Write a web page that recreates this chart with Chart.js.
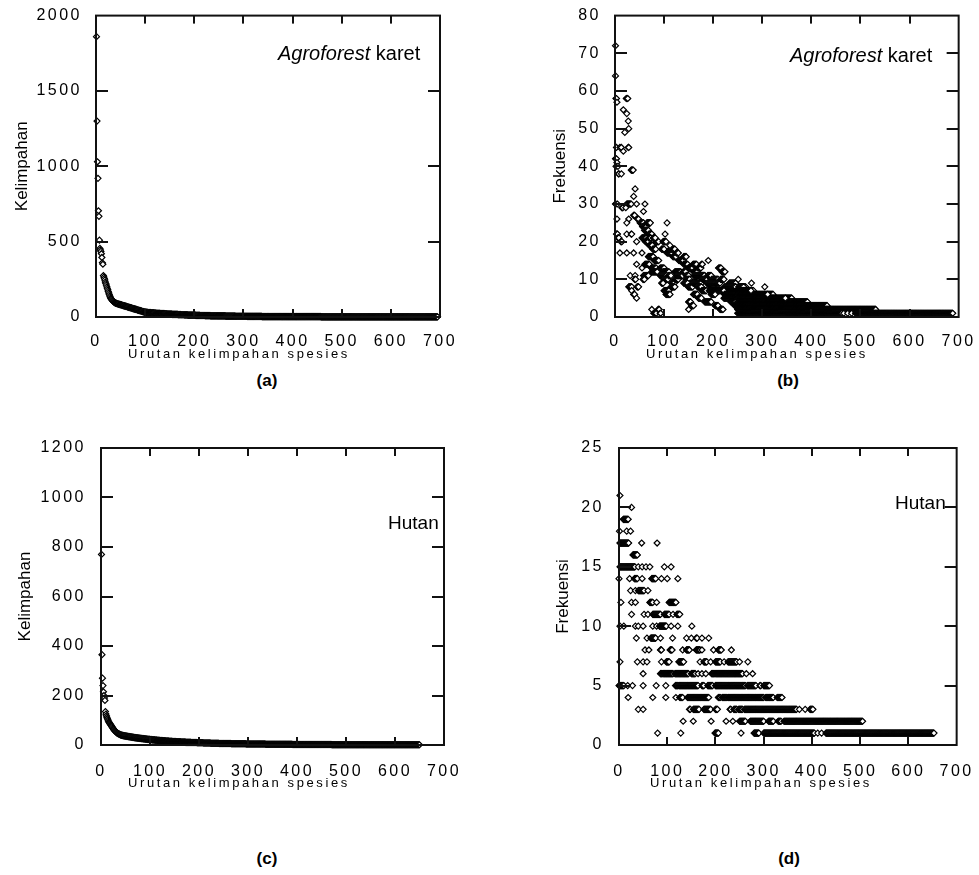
<!DOCTYPE html>
<html>
<head>
<meta charset="utf-8">
<script src="https://cdn.jsdelivr.net/npm/chart.js@4.4.1/dist/chart.umd.min.js"></script>
<style>
  html, body { margin: 0; padding: 0; background: #fff; }
  body { width: 979px; height: 875px; position: relative; overflow: hidden;
         font-family: "Liberation Sans", Arial, sans-serif; color: #000; }
  canvas { position: absolute; }
  .xt { position: absolute; font-size: 13px; line-height: 13px; letter-spacing: 2.6px; white-space: nowrap; }
  .note { position: absolute; font-size: 20px; line-height: 20px; white-space: nowrap; }
  .panel { position: absolute; width: 60px; text-align: center; font-size: 17px; line-height: 17px; font-weight: bold; }
</style>
</head>
<body>
<canvas id="chA" width="470" height="370" style="left:0;top:0"></canvas>
<canvas id="chB" width="439" height="370" style="left:540px;top:0"></canvas>
<canvas id="chC" width="470" height="370" style="left:0;top:420px"></canvas>
<canvas id="chD" width="439" height="370" style="left:540px;top:420px"></canvas>

<div class="note" style="left:278px;top:43px"><i>Agroforest</i> karet</div>
<div class="note" style="left:790px;top:45px"><i>Agroforest</i> karet</div>
<div class="note" style="left:388px;top:513px;font-size:19px">Hutan</div>
<div class="note" style="left:895px;top:493px;font-size:19px">Hutan</div>

<div class="xt" style="left:128px;top:347px">Urutan kelimpahan spesies</div>
<div class="xt" style="left:646px;top:347px">Urutan kelimpahan spesies</div>
<div class="xt" style="left:128px;top:776px">Urutan kelimpahan spesies</div>
<div class="xt" style="left:650px;top:776px">Urutan kelimpahan spesies</div>

<div class="panel" style="left:237px;top:372px">(a)</div>
<div class="panel" style="left:758px;top:372px">(b)</div>
<div class="panel" style="left:237px;top:850px">(c)</div>
<div class="panel" style="left:759px;top:850px">(d)</div>

<script>
// x axis: species abundance rank
const X_MAX = 700, X_STEP = 100;

// (a) Agroforest karet - abundance of the top ranks, then [abundance, number of species]
const rankTopA = [1860, 1300, 1030, 920, 705, 668, 510, 455, 445, 435, 420, 395, 360, 350, 275,
  265, 255, 245, 232, 222, 212, 200, 190, 180, 170, 160, 150, 140, 132, 125,
  120, 115, 111, 107, 104, 101, 98, 96, 94, 92];
const rankTailA = [[90,2],[88,2],[86,2],[84,2],[82,2],[80,2],[78,2],[76,2],[74,2],[72,2],[70,2],
  [68,2],[66,2],[64,2],[62,2],[60,2],[58,2],[56,2],[54,2],[52,2],[50,2],[48,2],[46,2],[44,2],
  [42,2],[40,2],[38,2],[36,2],[34,2],[33,2],[32,2],[31,3],[30,3],[29,3],[28,3],[27,4],[26,4],
  [25,4],[24,4],[23,4],[22,5],[21,5],[20,5],[19,5],[18,6],[17,6],[16,6],[15,7],[14,7],[13,8],
  [12,8],[11,9],[10,10],[9,11],[8,14],[7,17],[6,20],[5,24],[4,30],[3,40],[2,80],[1,238]];

// (b) Agroforest karet - [frequency, first rank, last rank]
const freqRunsB = [
  [72,1,1],[64,1,1],[58,2,3],[57,4,4],[58,23,26],[55,17,17],[54,24,24],[52,27,27],[50,28,28],[49,20,20],
  [45,3,3],[45,10,10],[45,13,13],[44,17,17],[45,27,28],[42,1,3],[41,4,4],[40,2,2],[40,6,6],[38,7,8],[38,13,13],[39,33,37],
  [34,41,41],[32,38,38],[30,1,2],[30,5,5],[29,14,16],[30,24,33],[30,44,44],[30,61,61],[29,22,22],[28,58,58],
  [27,38,40],[26,4,4],[26,28,28],[26,46,48],[25,24,24],[25,51,58],[24,56,64],[25,65,72],[23,60,68],[22,69,75],[25,106,106],
  [22,3,5],[21,6,8],[20,12,14],[22,24,24],[22,33,34],[20,44,44],[21,55,64],[20,62,68],[21,69,73],[19,74,78],
  [19,70,76],[18,77,83],[20,84,89],[21,78,82],
  [22,102,102],[18,95,100],[20,98,104],[17,106,116],[18,112,122],[16,118,124],[17,125,129],[15,130,136],[19,112,112],
  [17,10,10],[17,24,24],[17,38,38],[17,55,55],[16,68,78],[15,80,89],[14,44,44],[14,61,70],[13,74,84],
  [15,132,139],[16,140,145],[14,140,148],[13,149,156],[13,92,100],[12,98,110],[13,150,158],[14,159,166],
  [12,160,168],[13,169,175],[11,176,183],[15,190,190],[14,176,178],
  [11,31,31],[13,55,55],[11,41,41],[12,75,86],[11,58,68],[11,92,105],
  [10,100,108],[11,109,114],[9,115,121],[10,122,129],[12,122,134],[11,126,138],[12,139,144],[11,145,150],
  [10,145,152],[9,153,160],[11,161,166],[10,167,172],[9,140,148],[8,149,158],[9,159,176],[11,166,182],
  [8,168,176],[7,177,186],[9,187,193],[8,194,200],[10,178,188],[11,189,196],[10,197,210],[9,188,204],[7,192,212],
  [13,211,216],[12,218,224],[9,206,214],[10,215,222],[8,223,232],[9,233,246],[7,210,222],[6,223,234],[7,235,250],
  [10,251,251],[8,232,246],[7,247,256],[8,257,266],[6,226,266],[5,222,262],[9,278,278],[8,305,305],
  [8,28,34],[10,40,42],[10,57,60],[7,34,34],[6,38,40],[5,44,44],[8,45,48],[9,95,98],[7,100,110],[6,104,112],
  [8,114,122],[2,75,75],[1,79,84],[2,88,90],[1,92,93],[4,150,154],[3,156,160],[6,160,168],[5,170,176],
  [2,150,150],[4,183,196],[6,196,204],[3,204,210],[2,214,220],[4,236,246],[3,244,254],
  [8,252,262],[7,258,282],[6,250,322],[5,250,360],[4,250,392],[3,250,432],[2,250,531],[1,250,462],
  [1,466,466],[1,474,474],[1,482,482],[1,490,688],[7,277,277],[6,311,311],[5,347,347]
];

// (c) Hutan - abundance of the top ranks, then [abundance, number of species]
const rankTopC = [770, 365, 270, 240, 215, 200, 190, 180, 135, 125, 118, 112, 107, 102, 97,
  93, 90, 87, 84, 81, 78, 75, 72, 69, 66, 63, 60, 58, 56, 54,
  52, 50, 48, 47, 46, 45, 44, 43, 42, 41];
const rankTailC = [[40,2],[39,2],[38,2],[37,3],[36,3],[35,3],[34,3],[33,3],[32,3],[31,3],[30,3],
  [29,4],[28,4],[27,4],[26,4],[25,4],[24,4],[23,5],[22,5],[21,5],[20,5],[19,5],[18,6],[17,6],
  [16,7],[15,7],[14,8],[13,9],[12,10],[11,11],[10,12],[9,13],[8,15],[7,17],[6,25],[5,30],
  [4,40],[3,55],[2,80],[1,180]];

// (d) Hutan - [frequency, first rank, last rank]
const freqRunsD = [
  [21,2,2],[20,26,26],[19,9,19],[18,1,1],[18,16,16],[18,24,24],
  [17,2,20],[17,47,47],[17,79,79],[16,29,38],
  [15,2,33],[15,40,40],[15,48,48],[15,56,56],[15,64,64],[15,94,94],[15,108,108],
  [14,0,0],[14,22,22],[14,32,38],[14,48,48],[14,68,76],[14,88,88],[14,100,100],[14,122,122],
  [13,24,24],[13,34,34],[13,40,52],[13,60,60],
  [12,4,4],[12,26,26],[12,34,34],[12,64,70],[12,78,78],[12,104,118],
  [11,26,26],[11,52,52],[11,60,60],[11,70,86],[11,94,104],[11,112,112],[11,120,126],
  [10,2,2],[10,10,10],[10,34,34],[10,40,40],[10,50,50],[10,70,70],[10,78,78],[10,84,98],[10,108,108],
  [10,122,122],[10,151,151],
  [9,36,36],[9,58,58],[9,66,76],[9,86,86],[9,111,111],[9,140,140],[9,150,150],[9,160,162],[9,172,172],[9,186,186],
  [8,54,54],[8,62,62],[8,86,88],[8,106,110],[8,132,132],[8,140,146],[8,160,168],[8,172,172],[8,196,196],
  [8,206,212],[8,233,233],
  [7,2,2],[7,38,38],[7,50,50],[7,58,58],[7,88,88],[7,98,104],[7,124,134],[7,168,168],[7,176,182],[7,190,190],
  [7,200,210],[7,218,218],[7,226,244],[7,250,250],[7,267,267],
  [6,50,50],[6,86,90],[6,92,112],[6,116,144],[6,150,158],[6,164,164],[6,172,172],[6,180,180],[6,192,198],
  [6,200,256],[6,264,264],[6,277,277],
  [5,0,10],[5,18,18],[5,28,28],[5,50,50],[5,77,77],[5,97,97],[5,117,122],[5,124,164],[5,172,176],[5,184,194],
  [5,200,262],[5,266,284],[5,292,294],[5,300,312],
  [4,19,19],[4,70,70],[4,97,97],[4,118,118],[4,126,132],[4,142,186],[4,206,210],[4,214,224],[4,226,300],
  [4,304,320],[4,328,338],
  [3,40,40],[3,50,50],[3,146,148],[3,154,166],[3,176,190],[3,200,204],[3,230,232],[3,238,244],[3,248,256],
  [3,260,368],[3,374,374],[3,386,386],[3,396,402],
  [2,133,133],[2,154,154],[2,191,191],[2,222,222],[2,236,236],[2,250,262],[2,272,300],[2,310,320],[2,330,336],
  [2,342,505],
  [1,80,80],[1,128,128],[1,199,206],[1,253,253],[1,280,290],[1,300,405],[1,412,412],[1,420,420],[1,429,653]
];

// expand rank-abundance lists: top values one per rank, tail as runs of equal abundance
function rankPoints(top, tail){
  const pts = top.map((v, i) => ({x: i + 1, y: v}));
  let r = top.length;
  tail.forEach(([v, n]) => { for(let k = 0; k < n; k++) pts.push({x: ++r, y: v}); });
  return pts;
}
// expand [freq, from, to] runs, one point per rank
function runPoints(runs){
  const pts = [];
  runs.forEach(([f, a, b]) => { for(let r = a; r <= b; r++) pts.push({x: r, y: f}); });
  return pts;
}

// box frame with inward ticks on all four sides + spaced tick labels
const framePlugin = {
  id: 'frame',
  beforeDraw(chart){ chart.ctx.letterSpacing = '0px'; },
  afterDatasetsDraw(chart){
    const ctx = chart.ctx, a = chart.chartArea;
    const xs = chart.scales.x, ys = chart.scales.y;
    ctx.save();
    ctx.fillStyle = '#111';
    const xt = xs.ticks, yt = ys.ticks;
    for(let i = 1; i < xt.length - 1; i++){
      const px = Math.round(xs.getPixelForValue(xt[i].value));
      ctx.fillRect(px - 1, a.bottom - 8, 2, 8);
      ctx.fillRect(px - 1, a.top, 2, 8);
    }
    for(let i = 1; i < yt.length - 1; i++){
      const py = Math.round(ys.getPixelForValue(yt[i].value));
      ctx.fillRect(a.left, py - 1, 12, 2);
      ctx.fillRect(a.right - 12, py - 1, 12, 2);
    }
    ctx.strokeStyle = '#111';
    ctx.lineWidth = 2;
    ctx.strokeRect(a.left, a.top, a.right - a.left, a.bottom - a.top);
    ctx.restore();
    ctx.letterSpacing = '2.5px';
  },
  afterDraw(chart){ chart.ctx.letterSpacing = '0px'; }
};

function makePanel(id, points, yMax, yStep, yTitle, box){
  return new Chart(document.getElementById(id), {
    type: 'scatter',
    data: { datasets: [{
      data: points,
      pointStyle: 'rectRot',
      pointRadius: 3,
      borderWidth: 1.2,
      borderColor: '#000',
      backgroundColor: '#fff',
      clip: 4
    }]},
    options: {
      responsive: false,
      devicePixelRatio: 1,
      animation: false,
      events: [],
      layout: { padding: { top: box.padTop, right: box.padRight, left: 0, bottom: 0 } },
      plugins: { legend: { display: false }, tooltip: { enabled: false } },
      scales: {
        x: {
          type: 'linear', min: 0, max: X_MAX,
          grid: { display: false }, border: { display: false },
          ticks: { stepSize: X_STEP, padding: box.padX, color: '#000', z: 1, maxRotation: 0,
                   callback: v => String(v),
                   font: { family: 'Liberation Sans', size: 16 } },
          afterFit: s => { s.height = box.xHeight; }
        },
        y: {
          type: 'linear', min: 0, max: yMax,
          grid: { display: false }, border: { display: false },
          ticks: { stepSize: yStep, padding: box.padY, color: '#000', z: 1,
                   callback: v => String(v),
                   font: { family: 'Liberation Sans', size: 16 } },
          title: { display: true, text: yTitle, color: '#000', padding: { top: box.titlePad, bottom: 0 },
                   font: { family: 'Liberation Sans', size: 17 } },
          afterFit: s => { s.width = box.yWidth; }
        }
      }
    },
    plugins: [framePlugin]
  });
}

makePanel('chA', rankPoints(rankTopA, rankTailA), 2000, 500, 'Kelimpahan',
  { padTop: 11, padRight: 30, yWidth: 96, xHeight: 53, padX: 7, padY: 6, titlePad: 12 });
makePanel('chB', runPoints(freqRunsB), 80, 10, 'Frekuensi',
  { padTop: 11, padRight: 19, yWidth: 75, xHeight: 53, padX: 7, padY: 6, titlePad: 10 });
makePanel('chC', rankPoints(rankTopC, rankTailC), 1200, 200, 'Kelimpahan',
  { padTop: 28, padRight: 26, yWidth: 101, xHeight: 45, padX: 9, padY: 7, titlePad: 15 });
makePanel('chD', runPoints(freqRunsD), 25, 5, 'Frekuensi',
  { padTop: 28, padRight: 16, yWidth: 79, xHeight: 45, padX: 9, padY: 7, titlePad: 13 });
</script>
</body>
</html>
